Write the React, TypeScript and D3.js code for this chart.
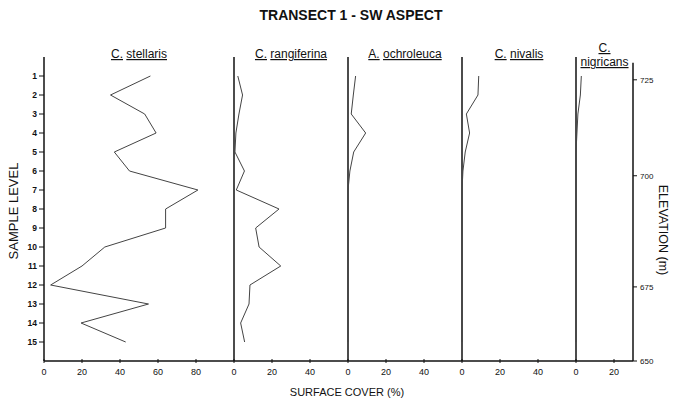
import React from "react";
import * as d3 from "d3";

// Sample levels along the transect (top = 1, bottom = 15)
const sampleLevels = [1, 2, 3, 4, 5, 6, 7, 8, 9, 10, 11, 12, 13, 14, 15];

// Surface cover (%) per sample level for each lichen species
const stellaris = [56, 35, 53, 59, 37, 45, 81, 64, 64, 32, 20, 3.5, 55, 19.5, 43];
const rangiferina = [2, 4.5, 2.6, 1, 0.5, 5.5, 1.2, 23.7, 11.4, 13.2, 24.6, 8.4, 7.9, 3.5, 5.6];
const ochroleuca = [4, 2.8, 1.7, 9.3, 3, 1, 0, 0, 0, 0, 0, 0, 0, 0, 0];
const nivalis = [8.8, 8.4, 2.3, 4, 1.7, 0.5, 0, 0, 0, 0, 0, 0, 0, 0, 0];
const nigricans = [2.8, 2.3, 1, 0.5, 0, 0, 0, 0, 0, 0, 0, 0, 0, 0, 0];

const genusNames = ["C.", "C.", "A.", "C.", "C."];
const speciesNames = ["stellaris", "rangiferina", "ochroleuca", "nivalis", "nigricans"];
const seriesValues = [stellaris, rangiferina, ochroleuca, nivalis, nigricans];

// Width of each panel in cover units, and its tick labels
const panelMax = [100, 60, 60, 60, 30];
const coverTicks = [
  [0, 20, 40, 60, 80],
  [0, 20, 40],
  [0, 20, 40],
  [0, 20, 40],
  [0, 20],
];

// Elevation axis (m) and the sample-level position of each tick
const elevationTicks = [725, 700, 675, 650];
const elevationAtLevel = [1.2, 6.25, 12.1, 16];

const W = 673;
const H = 401;
const FONT = "'Liberation Sans', Arial, Helvetica, sans-serif";

export default function App() {
  const totalUnits = d3.sum(panelMax);
  const x = d3.scaleLinear().domain([0, totalUnits]).range([44, 633]);
  const y = d3.scaleLinear().domain([0, 16]).range([57, 361]);
  const offsets = panelMax.map((_, i) => d3.sum(panelMax.slice(0, i)));
  const yBottom = y(16);
  const ink = "#111";

  return (
    <svg
      width={W}
      height={H}
      viewBox={`0 0 ${W} ${H}`}
      style={{ position: "absolute", left: 0, top: 0, background: "#fff" }}
      fontFamily={FONT}
    >
      <rect width={W} height={H} fill="#fff" />
      {/* Title */}
      <text x={351} y={20} textAnchor="middle" fontSize={14} fontWeight="bold" fill={ink}>
        TRANSECT 1 - SW ASPECT
      </text>

      {/* Panels */}
      {seriesValues.map((vals, i) => {
        const off = offsets[i];
        const x0 = x(off);
        const line = d3
          .line<number>()
          .x((v) => x(off + v))
          .y((_, j) => y(sampleLevels[j]));
        const labelX = i === 4 ? x(off + 15) : x(off + panelMax[i] / 2);
        return (
          <g key={i}>
            <line x1={x0} x2={x0} y1={y(0)} y2={yBottom} stroke={ink} strokeWidth={1.5} />
            <path d={line(vals) || ""} fill="none" stroke="#444" strokeWidth={1} />
            {coverTicks[i].map((t) => (
              <g key={t}>
                <line x1={x(off + t)} x2={x(off + t)} y1={yBottom - 2} y2={yBottom + 2} stroke={ink} strokeWidth={1} />
                <text x={x(off + t)} y={yBottom + 14} textAnchor="middle" fontSize={9} fill={ink}>
                  {t}
                </text>
              </g>
            ))}
            {i < 4 ? (
              <text x={labelX} y={58} textAnchor="middle" fontSize={12} fill={ink}>
                <tspan style={{ textDecoration: "underline" }}>{genusNames[i]}</tspan>
                <tspan>{"\u00a0"}</tspan>
                <tspan style={{ textDecoration: "underline" }}>{speciesNames[i]}</tspan>
              </text>
            ) : (
              <g>
                <text x={labelX} y={52} textAnchor="middle" fontSize={12} fill={ink}>
                  <tspan style={{ textDecoration: "underline" }}>{genusNames[i]}</tspan>
                </text>
                <text x={labelX} y={66} textAnchor="middle" fontSize={12} fill={ink}>
                  <tspan style={{ textDecoration: "underline" }}>{speciesNames[i]}</tspan>
                </text>
              </g>
            )}
          </g>
        );
      })}

      {/* Bottom axis */}
      <line x1={x(0)} x2={x(totalUnits)} y1={yBottom} y2={yBottom} stroke={ink} strokeWidth={1.5} />

      {/* Left axis: sample level */}
      {sampleLevels.map((lv) => (
        <g key={lv}>
          <line x1={x(0) - 5} x2={x(0)} y1={y(lv)} y2={y(lv)} stroke={ink} strokeWidth={1} />
          <text x={x(0) - 7} y={y(lv) + 3} textAnchor="end" fontSize={8.5} fontWeight="bold" fill={ink}>
            {lv}
          </text>
        </g>
      ))}
      <text
        transform={`translate(18, 211) rotate(-90)`}
        textAnchor="middle"
        fontSize={13}
        fill={ink}
      >
        SAMPLE LEVEL
      </text>

      {/* Right axis: elevation */}
      <line x1={x(totalUnits)} x2={x(totalUnits)} y1={y(0.3)} y2={yBottom} stroke={ink} strokeWidth={1.5} />
      {elevationTicks.map((e, k) => (
        <g key={e}>
          <line
            x1={x(totalUnits)}
            x2={x(totalUnits) + 4}
            y1={y(elevationAtLevel[k])}
            y2={y(elevationAtLevel[k])}
            stroke={ink}
            strokeWidth={1}
          />
          <text x={x(totalUnits) + 7} y={y(elevationAtLevel[k]) + 3} fontSize={8} fill={ink}>
            {e}
          </text>
        </g>
      ))}
      <text
        transform={`translate(659, 230) rotate(90)`}
        textAnchor="middle"
        fontSize={12.5}
        fill={ink}
      >
        ELEVATION (m)
      </text>

      {/* X axis title */}
      <text x={347} y={396} textAnchor="middle" fontSize={11} fill={ink}>
        SURFACE COVER (%)
      </text>
    </svg>
  );
}
